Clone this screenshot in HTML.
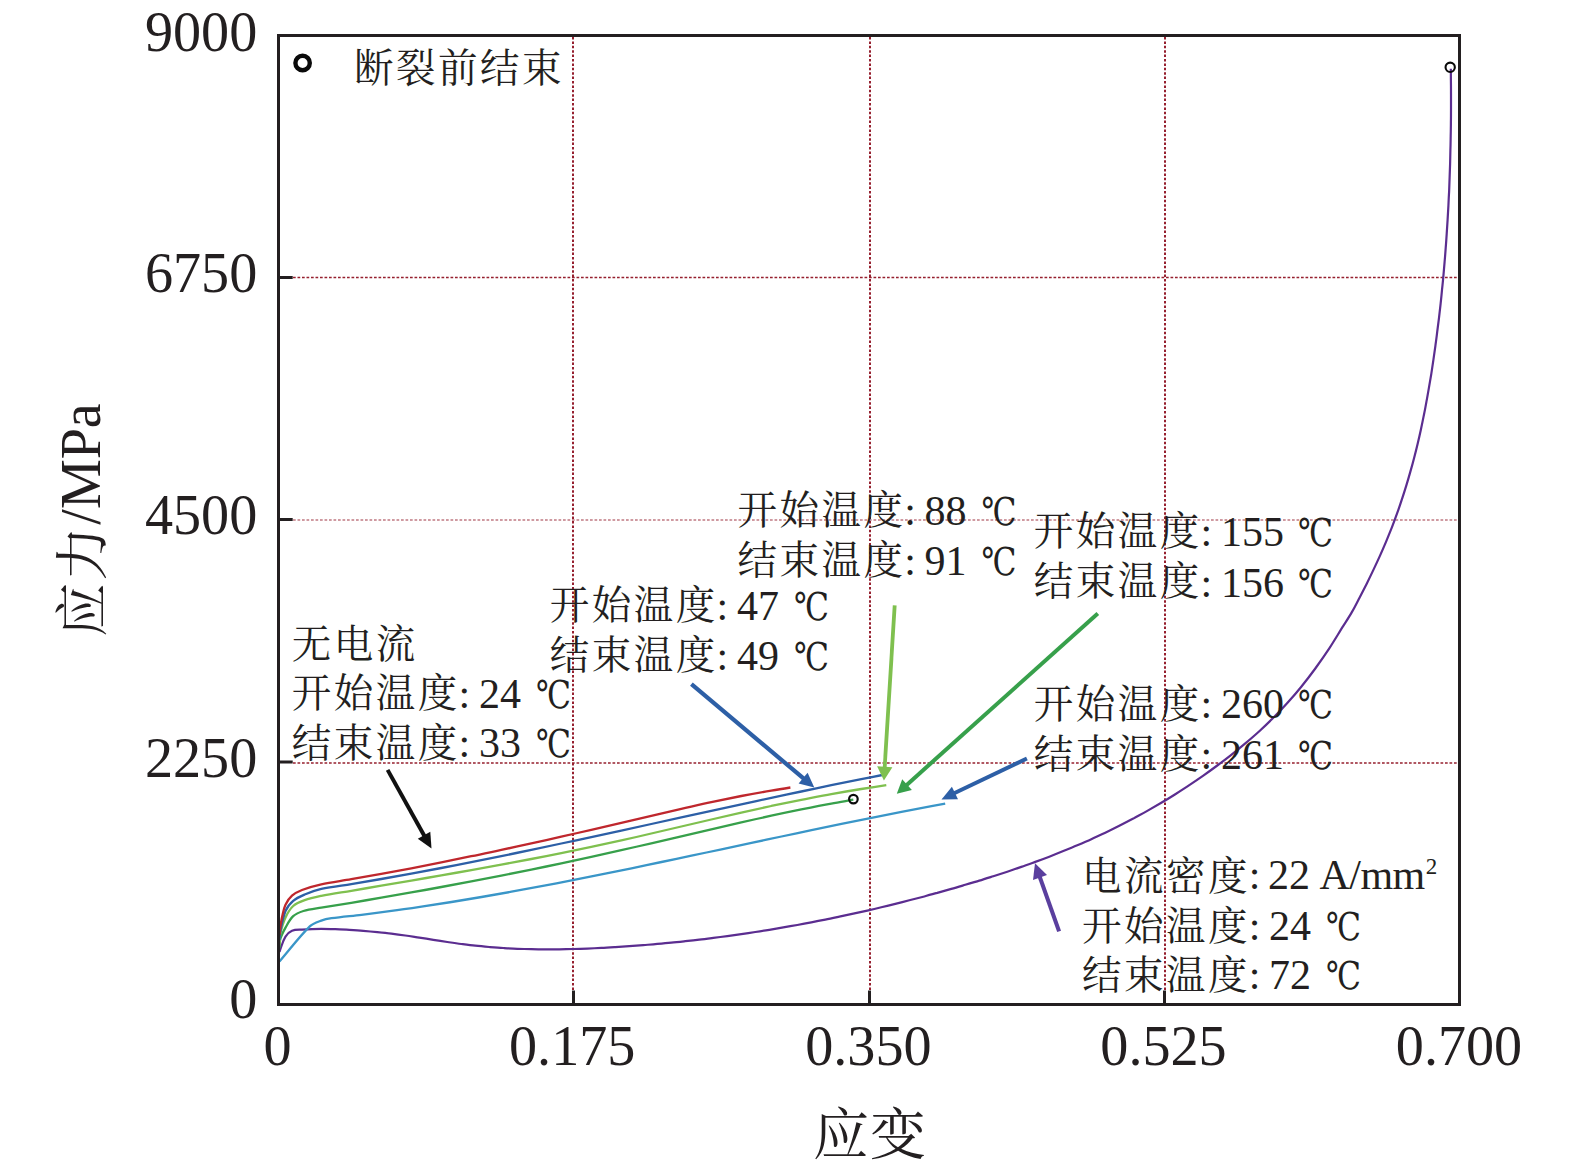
<!DOCTYPE html>
<html lang="zh"><head><meta charset="utf-8"><title>应力-应变曲线</title>
<style>
html,body{margin:0;padding:0;background:#fff}
body{width:1575px;height:1175px;overflow:hidden}
svg{display:block}
.lat{font-family:"Liberation Serif","Noto Serif CJK SC",serif}
.cjk{font-family:"Liberation Serif","Noto Serif CJK SC",serif}
text{fill:#231f20}
</style></head><body>
<svg width="1575" height="1175" viewBox="0 0 1575 1175">
<rect width="1575" height="1175" fill="#fff"/>
<g fill="none" stroke="#96202f">
<line x1="573.0" y1="37" x2="573.0" y2="990.5" stroke-width="2" stroke-dasharray="2.5 1.9"/>
<line x1="870.0" y1="37" x2="870.0" y2="990.5" stroke-width="2" stroke-dasharray="2.5 1.9"/>
<line x1="1165.0" y1="37" x2="1165.0" y2="990.5" stroke-width="2" stroke-dasharray="2.5 1.9"/>
<line x1="293" y1="277.5" x2="1458" y2="277.5" stroke-width="1.6" stroke-dasharray="2.7 1.8"/>
<line x1="293" y1="520.0" x2="1458" y2="520.0" stroke-width="1.6" stroke-dasharray="2.7 1.8" stroke-opacity="0.6"/>
<line x1="293" y1="763.0" x2="1458" y2="763.0" stroke-width="1.6" stroke-dasharray="2.7 1.8"/>
</g>
<g fill="none" stroke-width="2.3" stroke-linecap="butt" stroke-linejoin="round">
<path stroke="#5b2d90" stroke-width="2.2" d="M279.5 952.0C279.8 951.1 280.0 950.2 280.3 949.3C282.0 945.0 283.1 940.4 285.5 936.6C287.0 934.2 289.4 931.9 292.0 930.8C294.9 929.5 298.7 929.8 302.0 929.6C308.4 929.2 314.9 928.9 321.3 928.8C326.0 928.8 330.6 929.0 335.3 929.2C340.0 929.4 344.6 929.6 349.3 929.9C354.0 930.2 358.6 930.5 363.3 930.9C368.0 931.3 372.6 931.7 377.3 932.1C382.0 932.6 386.6 933.1 391.3 933.7C396.0 934.3 400.6 934.9 405.3 935.5C410.0 936.1 414.6 936.9 419.3 937.6C424.0 938.3 428.6 939.1 433.3 939.8C438.0 940.5 442.6 941.3 447.3 942.0C452.0 942.7 456.6 943.4 461.3 944.0C466.0 944.6 470.6 945.2 475.3 945.7C480.0 946.2 484.6 946.6 489.3 947.0C494.0 947.4 498.6 947.8 503.3 948.0C508.0 948.3 512.6 948.6 517.3 948.8C522.0 948.9 526.6 949.1 531.3 949.2C536.0 949.3 540.6 949.3 545.3 949.4C550.0 949.4 554.6 949.4 559.3 949.3C564.0 949.2 568.6 949.1 573.3 949.0C578.0 948.9 582.6 948.7 587.3 948.6C592.0 948.4 596.6 948.1 601.3 947.9C606.0 947.7 610.6 947.4 615.3 947.1C620.0 946.8 624.6 946.5 629.3 946.2C634.0 945.8 638.6 945.5 643.3 945.1C648.0 944.7 652.6 944.4 657.3 943.9C662.0 943.5 666.6 943.1 671.3 942.6C676.0 942.2 680.6 941.7 685.3 941.2C690.0 940.7 694.6 940.2 699.3 939.6C704.0 939.1 708.6 938.5 713.3 937.9C718.0 937.3 722.6 936.7 727.3 936.1C732.0 935.4 736.6 934.8 741.3 934.1C746.0 933.4 750.6 932.7 755.3 932.0C760.0 931.3 764.6 930.6 769.3 929.8C774.0 929.0 778.6 928.2 783.3 927.4C788.0 926.6 792.6 925.8 797.3 925.0C802.0 924.1 806.6 923.2 811.3 922.3C816.0 921.4 820.6 920.5 825.3 919.6C830.0 918.7 834.6 917.7 839.3 916.7C844.0 915.7 848.6 914.7 853.3 913.7C858.0 912.7 862.6 911.6 867.3 910.6C872.0 909.5 876.6 908.4 881.3 907.3C886.0 906.2 890.6 905.0 895.3 903.9C900.0 902.7 904.6 901.5 909.3 900.3C914.0 899.1 918.6 897.9 923.3 896.7C928.0 895.4 932.6 894.1 937.3 892.9C942.0 891.6 946.6 890.2 951.3 888.9C956.0 887.6 960.6 886.2 965.3 884.8C970.0 883.5 974.6 882.0 979.3 880.6C984.0 879.2 988.6 877.7 993.3 876.2C998.0 874.7 1002.6 873.2 1007.3 871.7C1012.0 870.1 1016.6 868.5 1021.3 866.9C1026.0 865.3 1030.6 863.6 1035.3 861.9C1040.0 860.2 1044.6 858.5 1049.3 856.7C1054.0 854.9 1058.7 853.0 1063.3 851.1C1068.0 849.2 1072.7 847.3 1077.3 845.3C1082.0 843.3 1086.7 841.3 1091.3 839.2C1096.0 837.0 1100.7 834.9 1105.3 832.7C1110.0 830.4 1114.7 828.1 1119.3 825.8C1124.0 823.4 1128.7 821.0 1133.3 818.6C1138.0 816.0 1142.7 813.5 1147.3 810.9C1152.0 808.2 1156.7 805.5 1161.3 802.8C1166.0 800.0 1170.7 797.1 1175.3 794.2C1180.0 791.2 1184.7 788.2 1189.3 785.1C1194.0 782.0 1198.7 778.8 1203.3 775.6C1208.0 772.3 1212.7 768.9 1217.3 765.5C1222.0 762.0 1226.7 758.4 1231.3 754.8C1236.0 751.1 1240.7 747.3 1245.3 743.4C1250.0 739.4 1254.7 735.4 1259.3 731.2C1264.1 726.8 1268.7 722.4 1273.3 717.8C1278.1 713.0 1282.8 708.1 1287.3 703.0C1292.1 697.7 1296.8 692.3 1301.3 686.7C1306.1 680.8 1310.8 674.7 1315.3 668.5C1320.1 661.9 1324.8 655.2 1329.3 648.4C1334.1 641.0 1338.6 633.4 1343.3 625.9C1346.2 621.3 1349.3 616.7 1352.0 611.9C1354.7 607.3 1357.0 602.6 1359.4 597.9C1361.8 593.3 1364.2 588.6 1366.6 583.9C1368.9 579.3 1371.2 574.6 1373.4 569.9C1375.6 565.3 1377.8 560.6 1379.9 555.9C1382.0 551.3 1384.0 546.6 1386.0 541.9C1387.9 537.3 1389.8 532.6 1391.7 527.9C1393.5 523.3 1395.2 518.6 1396.9 513.9C1398.6 509.3 1400.2 504.6 1401.7 499.9C1403.3 495.3 1404.7 490.6 1406.2 485.9C1407.6 481.3 1409.0 476.6 1410.3 471.9C1411.6 467.3 1412.9 462.6 1414.1 457.9C1415.3 453.3 1416.5 448.6 1417.6 443.9C1418.7 439.3 1419.8 434.6 1420.8 429.9C1421.8 425.3 1422.8 420.6 1423.7 415.9C1424.7 411.3 1425.6 406.6 1426.4 401.9C1427.3 397.3 1428.1 392.6 1428.9 387.9C1429.7 383.3 1430.5 378.6 1431.3 373.9C1432.0 369.3 1432.7 364.6 1433.4 359.9C1434.1 355.3 1434.7 350.6 1435.4 345.9C1436.0 341.3 1436.7 336.6 1437.2 331.9C1437.8 327.3 1438.4 322.6 1439.0 317.9C1439.5 313.3 1440.1 308.6 1440.6 303.9C1441.1 299.3 1441.6 294.6 1442.0 289.9C1442.5 285.3 1443.0 280.6 1443.4 275.9C1443.8 271.3 1444.2 266.6 1444.6 261.9C1445.0 257.3 1445.4 252.6 1445.7 247.9C1446.1 243.3 1446.4 238.6 1446.7 233.9C1447.0 229.3 1447.3 224.6 1447.6 219.9C1447.9 215.3 1448.1 210.6 1448.4 205.9C1448.6 201.3 1448.8 196.6 1449.1 191.9C1449.3 187.3 1449.4 182.6 1449.6 177.9C1449.8 173.3 1449.9 168.6 1450.1 163.9C1450.2 159.3 1450.3 154.6 1450.4 149.9C1450.6 145.3 1450.6 140.6 1450.7 135.9C1450.8 131.3 1450.9 126.6 1450.9 121.9C1451.0 117.3 1451.0 112.6 1451.0 107.9C1451.0 103.3 1451.0 98.6 1451.0 93.9C1451.0 89.3 1451.0 84.6 1450.9 79.9C1450.9 76.2 1450.9 72.5 1450.8 68.8"/>
<path stroke="#3a96c8" d="M279.5 961.5C289.6 949.8 298.9 937.1 309.8 926.4C312.8 923.4 317.3 922.1 321.3 920.6C324.5 919.4 328.1 918.7 331.5 918.2C341.5 916.8 351.5 916.0 361.5 914.8C371.5 913.6 381.5 912.3 391.5 910.9C401.5 909.6 411.5 908.1 421.5 906.6C431.5 905.1 441.5 903.6 451.5 902.0C461.5 900.4 471.5 898.7 481.5 897.0C491.5 895.3 501.5 893.5 511.5 891.7C521.5 889.9 531.5 888.0 541.5 886.2C551.5 884.3 561.5 882.3 571.5 880.4C581.5 878.4 591.5 876.4 601.5 874.4C611.5 872.4 621.5 870.3 631.5 868.3C641.5 866.2 651.5 864.1 661.5 862.0C671.5 859.9 681.5 857.8 691.5 855.7C701.5 853.6 711.5 851.4 721.5 849.3C731.5 847.2 741.5 845.0 751.5 842.9C761.5 840.8 771.5 838.6 781.5 836.5C791.5 834.4 801.5 832.3 811.5 830.2C821.5 828.1 831.5 826.0 841.5 823.9C851.5 821.9 861.5 819.8 871.5 817.8C881.5 815.8 891.5 813.8 901.5 811.9C911.5 809.9 921.5 808.0 931.5 806.1C936.1 805.3 940.6 804.4 945.2 803.6"/>
<path stroke="#37a04b" d="M279.5 948.0C279.8 945.0 279.5 941.8 280.3 939.0C281.5 935.0 283.5 931.2 285.5 927.6C287.8 923.6 289.9 919.2 293.2 916.2C295.9 913.7 299.8 912.1 303.4 911.0C309.2 909.3 315.3 908.7 321.3 907.7C331.3 906.0 341.3 904.4 351.3 902.8C361.3 901.1 371.3 899.4 381.3 897.7C391.3 896.0 401.3 894.2 411.3 892.4C421.3 890.7 431.3 888.9 441.3 887.0C451.3 885.2 461.3 883.3 471.3 881.4C481.3 879.5 491.3 877.6 501.3 875.6C511.3 873.6 521.3 871.6 531.3 869.6C541.3 867.5 551.3 865.5 561.3 863.4C571.3 861.2 581.3 859.1 591.3 856.9C601.3 854.7 611.3 852.5 621.3 850.2C631.3 847.9 641.3 845.6 651.3 843.3C661.3 841.0 671.3 838.6 681.3 836.3C691.3 833.9 701.3 831.6 711.3 829.3C721.3 826.9 731.3 824.6 741.3 822.3C751.3 820.1 761.3 817.9 771.3 815.7C781.3 813.5 791.3 811.4 801.3 809.4C811.3 807.4 821.3 805.4 831.3 803.6C838.6 802.2 846.0 801.0 853.3 799.7"/>
<path stroke="#7fc04f" d="M279.5 945.0C279.8 941.3 279.5 937.6 280.3 934.0C281.5 928.4 283.1 922.6 285.5 917.4C287.4 913.3 289.9 909.0 293.2 906.0C296.3 903.2 300.7 901.6 304.7 900.2C310.0 898.3 315.7 897.1 321.3 895.9C331.2 893.9 341.3 892.5 351.3 890.8C361.3 889.1 371.3 887.4 381.3 885.7C391.3 884.0 401.3 882.3 411.3 880.6C421.3 878.9 431.3 877.1 441.3 875.4C451.3 873.6 461.3 871.9 471.3 870.1C481.3 868.3 491.3 866.5 501.3 864.6C511.3 862.8 521.3 860.9 531.3 859.0C541.3 857.0 551.3 855.1 561.3 853.1C571.3 851.1 581.3 849.0 591.3 846.9C601.3 844.8 611.3 842.6 621.3 840.4C631.3 838.2 641.3 835.9 651.3 833.5C661.3 831.2 671.3 828.9 681.3 826.5C691.3 824.2 701.3 821.8 711.3 819.5C721.3 817.2 731.3 814.9 741.3 812.6C751.3 810.4 761.3 808.2 771.3 806.0C781.3 803.9 791.3 801.8 801.3 799.8C811.3 797.9 821.3 795.9 831.3 794.1C841.3 792.3 851.3 790.6 861.3 789.0C869.6 787.7 878.0 786.5 886.3 785.2"/>
<path stroke="#2d5fa6" d="M279.5 940.0C279.8 937.2 279.7 934.3 280.3 931.5C281.7 924.6 282.8 917.4 285.5 911.0C287.1 907.1 290.0 903.5 293.2 900.8C296.4 898.0 300.7 896.2 304.7 894.5C310.1 892.2 315.6 890.2 321.3 888.9C331.2 886.7 341.3 885.7 351.3 884.1C361.3 882.4 371.3 880.7 381.3 879.0C391.3 877.2 401.3 875.4 411.3 873.6C421.3 871.8 431.3 869.9 441.3 868.0C451.3 866.0 461.3 864.1 471.3 862.1C481.3 860.1 491.3 858.1 501.3 856.1C511.3 854.0 521.3 852.0 531.3 849.9C541.3 847.8 551.3 845.7 561.3 843.5C571.3 841.4 581.3 839.2 591.3 837.1C601.3 834.9 611.3 832.8 621.3 830.6C631.3 828.4 641.3 826.2 651.3 824.0C661.3 821.8 671.3 819.6 681.3 817.4C691.3 815.2 701.3 813.0 711.3 810.9C721.3 808.7 731.3 806.5 741.3 804.3C751.3 802.1 761.3 800.0 771.3 797.8C781.3 795.7 791.3 793.6 801.3 791.5C811.3 789.4 821.3 787.3 831.3 785.2C841.3 783.2 851.3 781.1 861.3 779.1C868.3 777.7 875.3 776.4 882.3 775.0"/>
<path stroke="#bf272d" d="M279.5 935.0C279.7 932.5 279.8 930.0 280.2 927.6C280.8 923.7 281.4 919.8 282.3 916.0C283.2 912.2 283.8 908.2 285.5 904.7C287.1 901.4 289.3 898.1 292.0 895.7C294.8 893.2 298.4 891.4 302.0 890.0C308.2 887.6 314.8 885.7 321.3 884.3C331.2 882.1 341.3 881.0 351.3 879.2C361.3 877.5 371.3 875.7 381.3 873.9C391.3 872.1 401.3 870.2 411.3 868.3C421.3 866.3 431.3 864.4 441.3 862.4C451.3 860.4 461.3 858.3 471.3 856.2C481.3 854.2 491.3 852.0 501.3 849.9C511.3 847.7 521.3 845.6 531.3 843.4C541.3 841.2 551.3 838.9 561.3 836.7C571.3 834.4 581.3 832.1 591.3 829.8C601.3 827.5 611.3 825.2 621.3 822.8C631.3 820.5 641.3 818.1 651.3 815.8C661.3 813.5 671.3 811.1 681.3 808.8C691.3 806.6 701.3 804.3 711.3 802.2C721.3 800.1 731.3 798.0 741.3 796.0C751.3 794.1 761.3 792.3 771.3 790.6C777.7 789.5 784.0 788.5 790.4 787.5"/>
</g>
<g fill="none" stroke="#231f20" stroke-width="3">
<rect x="278.5" y="35.5" width="1181.0" height="969.0"/>
<line x1="573.5" y1="990.5" x2="573.5" y2="1004"/>
<line x1="869.5" y1="990.5" x2="869.5" y2="1004"/>
<line x1="1164.5" y1="990.5" x2="1164.5" y2="1004"/>
<line x1="279" y1="277.5" x2="292.7" y2="277.5"/>
<line x1="279" y1="519.5" x2="292.7" y2="519.5"/>
<line x1="279" y1="762.0" x2="292.7" y2="762.0"/>
</g>
<g>
<line x1="387.6" y1="769.9" x2="425.0" y2="837.0" stroke="#111111" stroke-width="4.0"/><polygon points="431.5,848.6 417.8,838.7 430.3,831.7" fill="#111111"/>
<line x1="691.4" y1="684.2" x2="804.7" y2="779.4" stroke="#2d5fa6" stroke-width="4.2"/><polygon points="814.3,787.5 798.6,783.5 807.6,772.7" fill="#2d5fa6"/>
<line x1="894.7" y1="605.3" x2="884.6" y2="768.7" stroke="#7fc04f" stroke-width="3.8"/><polygon points="883.9,780.4 877.1,766.3 892.4,767.2" fill="#7fc04f"/>
<line x1="1097.8" y1="613.5" x2="905.6" y2="785.9" stroke="#37a04b" stroke-width="4.0"/><polygon points="896.8,793.8 902.2,779.2 911.9,790.0" fill="#37a04b"/>
<line x1="1026.9" y1="758.5" x2="953.1" y2="793.8" stroke="#2d5fa6" stroke-width="4.0"/><polygon points="941.5,799.4 951.9,786.7 958.0,799.3" fill="#2d5fa6"/>
<line x1="1059.1" y1="931.4" x2="1039.3" y2="875.6" stroke="#5a3f9e" stroke-width="4.1"/><polygon points="1035.0,863.3 1047.0,875.0 1033.0,879.9" fill="#5a3f9e"/>
</g>
<g fill="none" stroke="#0a0a0a">
<circle cx="302.6" cy="63" r="7.2" stroke-width="4.4" fill="#fff"/>
<circle cx="853.4" cy="799.1" r="4.3" stroke-width="2.2"/>
<circle cx="1450.2" cy="67.3" r="4.65" stroke-width="2.1"/>
</g>
<g class="lat" font-size="56.2" text-anchor="end">
<text x="257.3" y="50.5">9000</text>
<text x="257.3" y="292.3">6750</text>
<text x="257.3" y="534.0">4500</text>
<text x="257.3" y="776.7">2250</text>
<text x="257.3" y="1018.3">0</text>
</g>
<g class="lat" font-size="56.2" text-anchor="middle">
<text x="277.6" y="1065.2">0</text>
<text x="572.2" y="1065.2">0.175</text>
<text x="868.4" y="1065.2">0.350</text>
<text x="1163.5" y="1065.2">0.525</text>
<text x="1459.0" y="1065.2">0.700</text>
</g>
<text class="cjk" font-size="56" text-anchor="middle" x="870" y="1153.8" font-size="55" letter-spacing="1">应变</text>
<text class="cjk" font-size="56" text-anchor="middle" transform="translate(100.2 520) rotate(-90)"><tspan font-size="54" letter-spacing="2" dy="1.5">应力</tspan><tspan dy="-1.5">/MPa</tspan></text>
<text class="cjk" y="82"><tspan x="354.1" y="81.9" font-size="39.5" letter-spacing="2.5">断裂前结束</tspan></text>
<text class="cjk" font-size="42" y="656.3"><tspan x="291.8" y="657.6" font-size="39.5" letter-spacing="2.5">无电流</tspan></text>
<text class="cjk" font-size="42" y="707.5"><tspan x="291.8" y="707.0" font-size="39.5" letter-spacing="2.5">开始温度</tspan><tspan x="458.6" y="707.5">:</tspan> <tspan x="478.9" y="707.5">24</tspan> <tspan x="535.9" y="707.5" font-family="'DejaVu Serif','Noto Serif CJK SC',serif" font-size="38.5" textLength="35" lengthAdjust="spacingAndGlyphs">℃</tspan></text>
<text class="cjk" font-size="42" y="757.1"><tspan x="291.8" y="756.6" font-size="39.5" letter-spacing="2.5">结束温度</tspan><tspan x="458.6" y="757.1">:</tspan> <tspan x="478.9" y="757.1">33</tspan> <tspan x="535.9" y="757.1" font-family="'DejaVu Serif','Noto Serif CJK SC',serif" font-size="38.5" textLength="35" lengthAdjust="spacingAndGlyphs">℃</tspan></text>
<text class="cjk" font-size="42" y="619.5"><tspan x="549.8" y="619.0" font-size="39.5" letter-spacing="2.5">开始温度</tspan><tspan x="716.6" y="619.5">:</tspan> <tspan x="736.9" y="619.5">47</tspan> <tspan x="793.9" y="619.5" font-family="'DejaVu Serif','Noto Serif CJK SC',serif" font-size="38.5" textLength="35" lengthAdjust="spacingAndGlyphs">℃</tspan></text>
<text class="cjk" font-size="42" y="669.6"><tspan x="549.8" y="669.1" font-size="39.5" letter-spacing="2.5">结束温度</tspan><tspan x="716.6" y="669.6">:</tspan> <tspan x="736.9" y="669.6">49</tspan> <tspan x="793.9" y="669.6" font-family="'DejaVu Serif','Noto Serif CJK SC',serif" font-size="38.5" textLength="35" lengthAdjust="spacingAndGlyphs">℃</tspan></text>
<text class="cjk" font-size="42" y="524.7"><tspan x="737.5" y="524.2" font-size="39.5" letter-spacing="2.5">开始温度</tspan><tspan x="904.3" y="524.7">:</tspan> <tspan x="924.6" y="524.7">88</tspan> <tspan x="981.6" y="524.7" font-family="'DejaVu Serif','Noto Serif CJK SC',serif" font-size="38.5" textLength="35" lengthAdjust="spacingAndGlyphs">℃</tspan></text>
<text class="cjk" font-size="42" y="574.8"><tspan x="737.5" y="574.3" font-size="39.5" letter-spacing="2.5">结束温度</tspan><tspan x="904.3" y="574.8">:</tspan> <tspan x="924.6" y="574.8">91</tspan> <tspan x="981.6" y="574.8" font-family="'DejaVu Serif','Noto Serif CJK SC',serif" font-size="38.5" textLength="35" lengthAdjust="spacingAndGlyphs">℃</tspan></text>
<text class="cjk" font-size="42" y="546.4"><tspan x="1033.8" y="545.1" font-size="39.5" letter-spacing="2.5">开始温度</tspan><tspan x="1200.6" y="546.4">:</tspan> <tspan x="1220.9" y="546.4">155</tspan> <tspan x="1297.9" y="546.4" font-family="'DejaVu Serif','Noto Serif CJK SC',serif" font-size="38.5" textLength="35" lengthAdjust="spacingAndGlyphs">℃</tspan></text>
<text class="cjk" font-size="42" y="596.5"><tspan x="1033.8" y="595.2" font-size="39.5" letter-spacing="2.5">结束温度</tspan><tspan x="1200.6" y="596.5">:</tspan> <tspan x="1220.9" y="596.5">156</tspan> <tspan x="1297.9" y="596.5" font-family="'DejaVu Serif','Noto Serif CJK SC',serif" font-size="38.5" textLength="35" lengthAdjust="spacingAndGlyphs">℃</tspan></text>
<text class="cjk" font-size="42" y="718.3"><tspan x="1033.8" y="717.8" font-size="39.5" letter-spacing="2.5">开始温度</tspan><tspan x="1200.6" y="718.3">:</tspan> <tspan x="1220.9" y="718.3">260</tspan> <tspan x="1297.9" y="718.3" font-family="'DejaVu Serif','Noto Serif CJK SC',serif" font-size="38.5" textLength="35" lengthAdjust="spacingAndGlyphs">℃</tspan></text>
<text class="cjk" font-size="42" y="768.6"><tspan x="1033.8" y="768.1" font-size="39.5" letter-spacing="2.5">结束温度</tspan><tspan x="1200.6" y="768.6">:</tspan> <tspan x="1220.9" y="768.6">261</tspan> <tspan x="1297.9" y="768.6" font-family="'DejaVu Serif','Noto Serif CJK SC',serif" font-size="38.5" textLength="35" lengthAdjust="spacingAndGlyphs">℃</tspan></text>
<text class="cjk" font-size="42" y="888.7"><tspan x="1081.9" y="890.0" font-size="39.5" letter-spacing="2.5">电流密度</tspan><tspan x="1248.7" y="888.7">:</tspan> <tspan x="1268.0" y="888.7">22</tspan> <tspan x="1319.4" y="888.7" letter-spacing="-0.5">A/mm</tspan><tspan font-size="23" dx="1" dy="-14.7">2</tspan></text>
<text class="cjk" font-size="42" y="939.8"><tspan x="1081.9" y="939.7" font-size="39.5" letter-spacing="2.5">开始温度</tspan><tspan x="1248.7" y="939.8">:</tspan> <tspan x="1269.0" y="939.8">24</tspan> <tspan x="1326.0" y="939.8" font-family="'DejaVu Serif','Noto Serif CJK SC',serif" font-size="38.5" textLength="35" lengthAdjust="spacingAndGlyphs">℃</tspan></text>
<text class="cjk" font-size="42" y="989.4"><tspan x="1081.9" y="989.3" font-size="39.5" letter-spacing="2.5">结束温度</tspan><tspan x="1248.7" y="989.4">:</tspan> <tspan x="1269.0" y="989.4">72</tspan> <tspan x="1326.0" y="989.4" font-family="'DejaVu Serif','Noto Serif CJK SC',serif" font-size="38.5" textLength="35" lengthAdjust="spacingAndGlyphs">℃</tspan></text>
</svg>
</body></html>
